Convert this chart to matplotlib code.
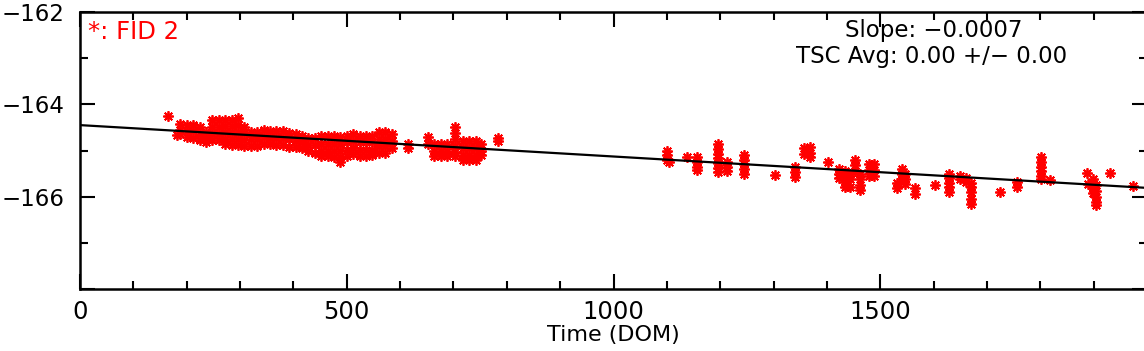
import matplotlib as mpl
mpl.use('Agg')
import matplotlib.pyplot as plt
from matplotlib.ticker import MultipleLocator, FuncFormatter

# FID 2 readings, grouped as (DOM, [values at that DOM])
early = [
    (165, [-164.25]), (182, [-164.66]),
    (188, [-164.43, -164.55, -164.65]), (200, [-164.45, -164.58, -164.70]),
    (212, [-164.45, -164.58, -164.72]), (224, [-164.50, -164.65, -164.78]),
    (236, [-164.60, -164.72, -164.82]), (248, [-164.35, -164.50, -164.65, -164.77]),
    (260, [-164.35, -164.50, -164.65, -164.78]),
    (272, [-164.33, -164.47, -164.60, -164.75, -164.85]),
    (284, [-164.33, -164.47, -164.60, -164.75, -164.88]),
    (296, [-164.30, -164.45, -164.60, -164.75, -164.88]),
    (308, [-164.50, -164.63, -164.77, -164.90]), (320, [-164.60, -164.75, -164.90]),
    (332, [-164.60, -164.75, -164.90]), (344, [-164.55, -164.70, -164.85]),
    (356, [-164.58, -164.72, -164.85]), (368, [-164.58, -164.72, -164.88]),
    (380, [-164.58, -164.72, -164.88]), (392, [-164.62, -164.76, -164.92]),
    (404, [-164.65, -164.80, -164.92]), (416, [-164.68, -164.82, -164.95]),
    (428, [-164.72, -164.88, -165.02]), (440, [-164.72, -164.88, -165.05]),
    (452, [-164.68, -164.85, -165.00, -165.12]), (464, [-164.68, -164.85, -165.00, -165.12]),
    (476, [-164.68, -164.85, -165.00, -165.15]),
    (488, [-164.70, -164.85, -165.00, -165.15, -165.25]),
    (500, [-164.68, -164.82, -164.98, -165.12]), (512, [-164.65, -164.80, -164.95, -165.08]),
    (524, [-164.68, -164.82, -164.98, -165.12]), (536, [-164.68, -164.82, -164.98, -165.12]),
    (548, [-164.68, -164.82, -164.98, -165.10]), (560, [-164.60, -164.75, -164.90, -165.05]),
    (572, [-164.60, -164.75, -164.90, -165.05]), (584, [-164.65, -164.80, -164.95]),
    (615, [-164.85, -164.95]), (652, [-164.70, -164.85]),
    (664, [-164.85, -165.00, -165.12]), (676, [-164.85, -165.00, -165.12]),
    (688, [-164.85, -165.00, -165.12]),
    (703, [-164.50, -164.63, -164.76, -164.90, -165.03, -165.12]),
    (718, [-164.80, -164.95, -165.10, -165.20]), (730, [-164.80, -164.95, -165.10, -165.20]),
    (742, [-164.80, -164.95, -165.10, -165.20]), (752, [-164.85, -165.00, -165.10]),
    (783, [-164.72, -164.80]),
]
late = [
    (1100, [-165.00, -165.10, -165.20]), (1104, [-165.25]), (1138, [-165.14]),
    (1157, [-165.15, -165.25, -165.35, -165.42]),
    (1195, [-164.87, -164.97, -165.07, -165.17, -165.27, -165.37, -165.46]),
    (1213, [-165.25, -165.35, -165.45]),
    (1245, [-165.10, -165.20, -165.30, -165.40, -165.50]),
    (1303, [-165.53]), (1340, [-165.36, -165.46, -165.58]),
    (1358, [-164.95, -165.08]), (1368, [-164.92, -165.05, -165.15]),
    (1402, [-165.25]), (1423, [-165.40, -165.50, -165.60]),
    (1433, [-165.45, -165.55, -165.68, -165.78]), (1443, [-165.50, -165.62, -165.78]),
    (1452, [-165.20, -165.32, -165.44]), (1462, [-165.50, -165.62, -165.74, -165.85]),
    (1478, [-165.30, -165.42, -165.55]), (1488, [-165.30, -165.42, -165.55]),
    (1532, [-165.70, -165.82]), (1540, [-165.40, -165.50, -165.62]),
    (1547, [-165.50, -165.62, -165.72]), (1565, [-165.82, -165.95]),
    (1603, [-165.75]), (1628, [-165.50, -165.60, -165.70, -165.80, -165.90]),
    (1650, [-165.55, -165.62]), (1660, [-165.60, -165.68]),
    (1670, [-165.70, -165.80, -165.90, -166.05, -166.15]),
    (1725, [-165.90]), (1757, [-165.68, -165.80]),
    (1801, [-165.15, -165.25, -165.35, -165.45, -165.55, -165.62]),
    (1819, [-165.64]), (1888, [-165.49]), (1890, [-165.72]),
    (1898, [-165.62, -165.72, -165.82, -165.92]),
    (1905, [-165.75, -165.88, -166.00, -166.12, -166.18]),
    (1931, [-165.49]), (1973, [-165.77]),
]

fit_intercept = -164.45
fit_slope = -0.00068
slope_text = 'Slope: \u22120.0007'
avg_text = 'TSC Avg: 0.00 +/\u2212 0.00'

dom = [d for d, ys in early + late for _ in ys]
val = [y for d, ys in early + late for y in ys]

fig = plt.figure(figsize=(11.44, 3.51), dpi=100)
ax = fig.add_axes([80 / 1144, 62 / 351, 1067 / 1144, 277 / 351])

ax.plot(dom, val, linestyle='none', marker=(8, 2, 0), markersize=7.5,
        markeredgewidth=1.3, color='red', zorder=2)
xs = [0, 2000]
ax.plot(xs, [fit_intercept + fit_slope * x for x in xs], color='black', lw=1.6, zorder=3)

ax.set_xlim(0, 2000)
ax.set_ylim(-168, -162)
ax.xaxis.set_major_locator(MultipleLocator(500))
ax.xaxis.set_minor_locator(MultipleLocator(100))
ax.yaxis.set_major_locator(MultipleLocator(2))
ax.yaxis.set_minor_locator(MultipleLocator(1))
ax.xaxis.set_major_formatter(FuncFormatter(lambda v, p: '' if v >= 2000 else '%d' % v))
ax.yaxis.set_major_formatter(FuncFormatter(
    lambda v, p: '' if v <= -168 else ('%d' % v).replace('-', '\u2212')))
ax.tick_params(which='both', direction='in', top=True, right=True, width=1.5)
ax.tick_params(which='major', length=11)
ax.tick_params(which='minor', length=6)
ax.tick_params(axis='x', pad=8, labelsize=17.5)
ax.tick_params(axis='y', pad=11, labelsize=16.5)
for s in ax.spines.values():
    s.set_linewidth(1.8)
ax.set_xlabel('Time (DOM)', fontsize=16, labelpad=1)

fig.text(88 / 1144, 1 - 32 / 351, '*: FID 2', color='red', fontsize=17.5,
         va='center', ha='left')
fig.text(934 / 1144, 1 - 30 / 351, slope_text, fontsize=16.5,
         va='center', ha='center')
fig.text(932 / 1144, 1 - 56 / 351, avg_text, fontsize=16.5,
         va='center', ha='center')

fig.savefig('out.png', dpi=100)
